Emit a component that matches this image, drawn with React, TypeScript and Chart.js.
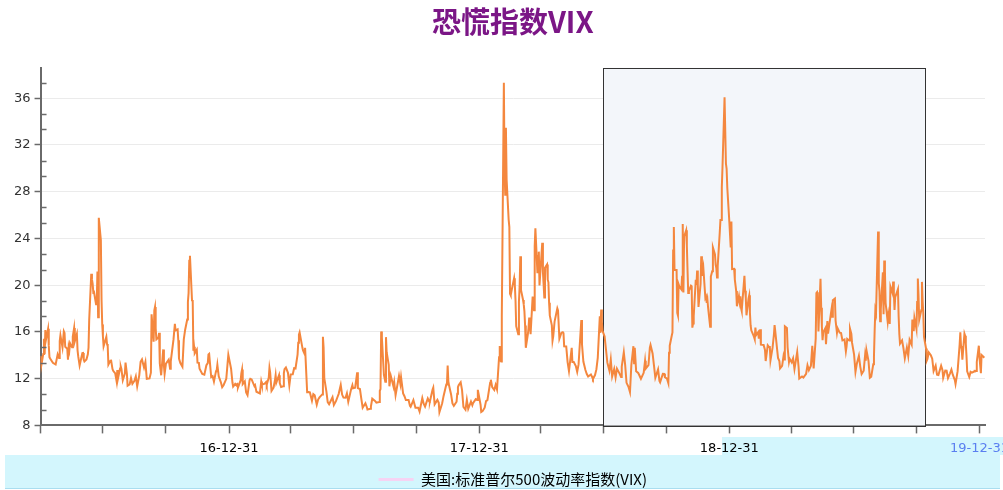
import React, { useEffect, useRef } from "react";
import { Chart, registerables } from "chart.js";

Chart.register(...registerables);

const titleText = "恐慌指数VIX";
const seriesName = "美国:标准普尔500波动率指数(VIX)";
const yTicks = [8, 12, 16, 20, 24, 28, 32, 36];
const yMin = 8;
const yMax = 38.6;
const xStart = "2016-03-31";
const xEnd = "2020-01-08";
const xTickDates = [
  "2016-03-31", "2016-06-30", "2016-09-30", "2016-12-31",
  "2017-03-31", "2017-06-30", "2017-09-30", "2017-12-31",
  "2018-03-31", "2018-06-30", "2018-09-30", "2018-12-31",
  "2019-03-31", "2019-06-30", "2019-09-30", "2019-12-31",
];
const highlightRange = ["2018-06-30", "2019-10-13"];

const vix2016: [string, number][] = [
  ["2016-03-31", 13.95], ["2016-04-01", 13.1], ["2016-04-04", 14.12], ["2016-04-05", 15.42], ["2016-04-06", 14.09],
  ["2016-04-07", 16.16], ["2016-04-08", 15.36], ["2016-04-11", 16.26], ["2016-04-12", 14.85], ["2016-04-13", 13.84],
  ["2016-04-14", 13.72], ["2016-04-18", 13.35], ["2016-04-20", 13.28], ["2016-04-22", 13.22], ["2016-04-25", 14.08],
  ["2016-04-27", 13.77], ["2016-04-28", 15.22], ["2016-04-29", 15.7], ["2016-05-02", 14.68], ["2016-05-04", 16.05],
  ["2016-05-05", 15.91], ["2016-05-06", 14.72], ["2016-05-09", 14.57], ["2016-05-10", 13.63], ["2016-05-11", 14.69],
  ["2016-05-12", 14.41], ["2016-05-13", 15.04], ["2016-05-16", 14.68], ["2016-05-17", 15.57], ["2016-05-18", 15.95],
  ["2016-05-19", 16.33], ["2016-05-20", 15.2], ["2016-05-23", 15.82], ["2016-05-24", 14.42], ["2016-05-25", 13.9],
  ["2016-05-27", 13.12], ["2016-05-31", 14.19], ["2016-06-01", 14.2], ["2016-06-02", 13.63], ["2016-06-03", 13.47],
  ["2016-06-06", 13.65], ["2016-06-08", 14.08], ["2016-06-09", 14.64], ["2016-06-10", 17.03], ["2016-06-13", 20.97],
  ["2016-06-14", 20.5], ["2016-06-15", 20.14], ["2016-06-16", 19.37], ["2016-06-17", 19.41], ["2016-06-20", 18.37],
  ["2016-06-21", 18.48], ["2016-06-22", 21.17], ["2016-06-23", 17.25], ["2016-06-24", 25.76], ["2016-06-27", 23.85],
  ["2016-06-28", 18.75], ["2016-06-29", 16.64], ["2016-06-30", 15.63], ["2016-07-01", 14.77], ["2016-07-05", 15.58],
  ["2016-07-06", 14.96], ["2016-07-07", 14.76], ["2016-07-08", 13.2], ["2016-07-11", 13.54], ["2016-07-12", 13.55],
  ["2016-07-14", 12.82], ["2016-07-15", 12.67], ["2016-07-18", 12.44], ["2016-07-20", 11.77], ["2016-07-21", 12.74],
  ["2016-07-22", 12.02], ["2016-07-25", 12.87], ["2016-07-26", 13.05], ["2016-07-27", 12.83], ["2016-07-29", 11.87],
  ["2016-08-01", 12.44], ["2016-08-02", 13.37], ["2016-08-04", 12.42], ["2016-08-05", 11.39], ["2016-08-08", 11.5],
  ["2016-08-10", 12.05], ["2016-08-12", 11.55], ["2016-08-15", 11.81], ["2016-08-17", 12.19], ["2016-08-19", 11.34],
  ["2016-08-22", 12.27], ["2016-08-24", 13.45], ["2016-08-26", 13.65], ["2016-08-29", 12.94], ["2016-08-31", 13.42],
  ["2016-09-02", 11.98], ["2016-09-06", 12.02], ["2016-09-08", 12.51], ["2016-09-09", 17.5], ["2016-09-12", 15.16],
  ["2016-09-13", 17.85], ["2016-09-14", 18.14], ["2016-09-15", 16.3], ["2016-09-16", 15.37], ["2016-09-19", 15.53],
  ["2016-09-20", 15.92], ["2016-09-21", 13.3], ["2016-09-23", 12.29], ["2016-09-26", 14.5], ["2016-09-27", 13.1],
  ["2016-09-28", 12.39], ["2016-09-30", 13.29], ["2016-10-04", 13.63], ["2016-10-06", 12.84], ["2016-10-07", 13.48],
  ["2016-10-11", 15.36], ["2016-10-13", 16.69], ["2016-10-14", 16.12], ["2016-10-17", 16.21], ["2016-10-18", 15.28],
  ["2016-10-19", 13.72], ["2016-10-21", 13.34], ["2016-10-24", 13.02], ["2016-10-26", 15.36], ["2016-10-28", 16.19],
  ["2016-10-31", 17.06], ["2016-11-01", 18.56], ["2016-11-02", 19.32], ["2016-11-03", 22.08], ["2016-11-04", 22.51],
  ["2016-11-07", 18.71], ["2016-11-08", 18.74], ["2016-11-09", 14.38], ["2016-11-10", 14.74], ["2016-11-11", 14.17],
  ["2016-11-14", 14.48], ["2016-11-15", 13.37], ["2016-11-17", 13.35], ["2016-11-18", 12.85], ["2016-11-22", 12.41],
  ["2016-11-25", 12.34], ["2016-11-28", 13.15], ["2016-11-30", 13.33], ["2016-12-01", 14.07], ["2016-12-02", 14.12],
  ["2016-12-05", 12.14], ["2016-12-07", 12.22], ["2016-12-09", 11.75], ["2016-12-12", 12.64], ["2016-12-13", 12.72],
  ["2016-12-14", 13.19], ["2016-12-16", 12.2], ["2016-12-19", 11.71], ["2016-12-21", 11.27], ["2016-12-23", 11.44],
  ["2016-12-27", 11.99], ["2016-12-29", 13.37], ["2016-12-30", 14.04],
];

const vix2017: [string, number][] = [
  ["2017-01-03", 12.85], ["2017-01-05", 11.67], ["2017-01-06", 11.32], ["2017-01-09", 11.56], ["2017-01-10", 11.49],
  ["2017-01-12", 11.54], ["2017-01-13", 11.23], ["2017-01-17", 11.87], ["2017-01-18", 12.48], ["2017-01-19", 12.78],
  ["2017-01-20", 11.54], ["2017-01-23", 11.77], ["2017-01-25", 10.81], ["2017-01-27", 10.58], ["2017-01-30", 11.88],
  ["2017-01-31", 11.99], ["2017-02-02", 11.93], ["2017-02-06", 11.37], ["2017-02-07", 11.45], ["2017-02-09", 10.88],
  ["2017-02-14", 10.74], ["2017-02-16", 11.76], ["2017-02-17", 11.49], ["2017-02-21", 11.57], ["2017-02-23", 11.71],
  ["2017-02-24", 11.47], ["2017-02-27", 12.09], ["2017-02-28", 12.92], ["2017-03-01", 12.54], ["2017-03-03", 10.96],
  ["2017-03-06", 11.24], ["2017-03-08", 11.86], ["2017-03-09", 12.3], ["2017-03-10", 11.66], ["2017-03-14", 12.3],
  ["2017-03-15", 11.63], ["2017-03-17", 11.28], ["2017-03-20", 11.34], ["2017-03-21", 12.47], ["2017-03-22", 12.81],
  ["2017-03-24", 12.96], ["2017-03-27", 12.5], ["2017-03-29", 11.42], ["2017-03-31", 12.37], ["2017-04-03", 12.38],
  ["2017-04-05", 12.89], ["2017-04-07", 12.87], ["2017-04-10", 14.05], ["2017-04-11", 15.07], ["2017-04-12", 15.77],
  ["2017-04-13", 15.96], ["2017-04-17", 14.66], ["2017-04-18", 14.42], ["2017-04-20", 14.15], ["2017-04-21", 14.63],
  ["2017-04-24", 10.84], ["2017-04-26", 10.85], ["2017-04-28", 10.82], ["2017-05-01", 10.11], ["2017-05-03", 10.68],
  ["2017-05-05", 10.57], ["2017-05-08", 9.77], ["2017-05-10", 10.21], ["2017-05-12", 10.4], ["2017-05-16", 10.65],
  ["2017-05-17", 15.59], ["2017-05-18", 14.66], ["2017-05-19", 12.04], ["2017-05-22", 10.93], ["2017-05-24", 9.99],
  ["2017-05-26", 9.81], ["2017-05-31", 10.41], ["2017-06-02", 9.75], ["2017-06-05", 10.07], ["2017-06-07", 10.39],
  ["2017-06-09", 10.7], ["2017-06-12", 11.46], ["2017-06-14", 10.64], ["2017-06-16", 10.38], ["2017-06-19", 10.37],
  ["2017-06-21", 10.75], ["2017-06-23", 10.02], ["2017-06-27", 11.06], ["2017-06-29", 11.44], ["2017-06-30", 11.18],
  ["2017-07-03", 11.22], ["2017-07-06", 12.54], ["2017-07-07", 11.19], ["2017-07-10", 11.11], ["2017-07-12", 10.3],
  ["2017-07-14", 9.51], ["2017-07-18", 9.89], ["2017-07-20", 9.58], ["2017-07-21", 9.36], ["2017-07-25", 9.43],
  ["2017-07-26", 9.6], ["2017-07-28", 10.29], ["2017-08-01", 10.09], ["2017-08-03", 9.95], ["2017-08-07", 10.0],
  ["2017-08-08", 10.96], ["2017-08-09", 11.11], ["2017-08-10", 16.04], ["2017-08-11", 15.51], ["2017-08-14", 12.33],
  ["2017-08-15", 12.04], ["2017-08-16", 11.74], ["2017-08-17", 15.55], ["2017-08-18", 14.26], ["2017-08-21", 13.19],
  ["2017-08-22", 11.35], ["2017-08-24", 12.25], ["2017-08-28", 11.32], ["2017-08-29", 11.7], ["2017-08-31", 10.59],
  ["2017-09-05", 12.23], ["2017-09-07", 11.55], ["2017-09-08", 12.12], ["2017-09-11", 10.73], ["2017-09-13", 10.5],
  ["2017-09-15", 10.17], ["2017-09-19", 10.18], ["2017-09-21", 9.67], ["2017-09-22", 9.59], ["2017-09-26", 10.17],
  ["2017-09-29", 9.51], ["2017-10-03", 9.51], ["2017-10-05", 9.19], ["2017-10-09", 10.33], ["2017-10-11", 9.85],
  ["2017-10-13", 9.61], ["2017-10-17", 10.31], ["2017-10-19", 10.05], ["2017-10-20", 10.03], ["2017-10-24", 11.07],
  ["2017-10-25", 11.23], ["2017-10-27", 9.8], ["2017-10-31", 10.18], ["2017-11-02", 9.93], ["2017-11-03", 9.14],
  ["2017-11-07", 9.89], ["2017-11-09", 10.5], ["2017-11-13", 11.5], ["2017-11-14", 11.59], ["2017-11-15", 13.13],
  ["2017-11-16", 11.76], ["2017-11-17", 11.43], ["2017-11-20", 10.65], ["2017-11-22", 9.88], ["2017-11-24", 9.67],
  ["2017-11-28", 10.03], ["2017-11-29", 10.7], ["2017-11-30", 11.28], ["2017-12-01", 11.43], ["2017-12-04", 11.68],
  ["2017-12-06", 11.02], ["2017-12-08", 9.58], ["2017-12-11", 9.34], ["2017-12-13", 10.18], ["2017-12-15", 9.42],
  ["2017-12-19", 10.03], ["2017-12-21", 9.72], ["2017-12-22", 9.9], ["2017-12-26", 10.25], ["2017-12-28", 10.18],
  ["2017-12-29", 11.04],
];

const vix2018: [string, number][] = [
  ["2018-01-02", 9.77], ["2018-01-03", 9.15], ["2018-01-05", 9.22], ["2018-01-08", 9.52], ["2018-01-10", 10.08],
  ["2018-01-12", 10.16], ["2018-01-16", 11.66], ["2018-01-17", 11.91], ["2018-01-19", 11.27], ["2018-01-22", 11.03],
  ["2018-01-24", 11.47], ["2018-01-26", 11.08], ["2018-01-29", 13.84], ["2018-01-30", 14.79], ["2018-01-31", 13.54],
  ["2018-02-01", 13.47], ["2018-02-02", 17.31], ["2018-02-05", 37.32], ["2018-02-06", 29.98], ["2018-02-07", 27.73],
  ["2018-02-08", 33.46], ["2018-02-09", 29.06], ["2018-02-12", 25.61], ["2018-02-13", 24.97], ["2018-02-14", 19.26],
  ["2018-02-15", 19.13], ["2018-02-16", 19.46], ["2018-02-20", 20.6], ["2018-02-21", 20.02], ["2018-02-22", 18.72],
  ["2018-02-23", 16.49], ["2018-02-26", 15.8], ["2018-02-27", 18.59], ["2018-02-28", 19.85], ["2018-03-01", 22.47],
  ["2018-03-02", 19.59], ["2018-03-05", 18.73], ["2018-03-06", 18.36], ["2018-03-07", 17.76], ["2018-03-08", 16.54],
  ["2018-03-09", 14.64], ["2018-03-12", 15.78], ["2018-03-13", 16.35], ["2018-03-14", 17.23], ["2018-03-15", 16.59],
  ["2018-03-16", 15.8], ["2018-03-19", 19.02], ["2018-03-20", 18.2], ["2018-03-21", 17.86], ["2018-03-22", 23.34],
  ["2018-03-23", 24.87], ["2018-03-26", 21.03], ["2018-03-27", 22.5], ["2018-03-28", 22.87], ["2018-03-29", 19.97],
  ["2018-04-02", 23.62], ["2018-04-03", 21.1], ["2018-04-04", 20.06], ["2018-04-05", 18.94], ["2018-04-06", 21.49],
  ["2018-04-09", 21.77], ["2018-04-10", 20.47], ["2018-04-11", 20.24], ["2018-04-12", 18.49], ["2018-04-13", 17.41],
  ["2018-04-16", 16.56], ["2018-04-17", 15.25], ["2018-04-18", 15.6], ["2018-04-20", 16.88], ["2018-04-24", 18.02],
  ["2018-04-25", 17.84], ["2018-04-27", 15.41], ["2018-04-30", 15.93], ["2018-05-02", 15.97], ["2018-05-03", 15.9],
  ["2018-05-04", 14.77], ["2018-05-07", 14.75], ["2018-05-09", 13.42], ["2018-05-11", 12.65], ["2018-05-15", 14.63],
  ["2018-05-16", 13.42], ["2018-05-18", 13.42], ["2018-05-21", 13.08], ["2018-05-23", 12.58], ["2018-05-25", 13.22],
  ["2018-05-29", 17.02], ["2018-05-30", 14.94], ["2018-06-01", 13.46], ["2018-06-04", 12.74], ["2018-06-06", 12.4],
  ["2018-06-08", 12.18], ["2018-06-12", 12.35], ["2018-06-14", 12.12], ["2018-06-15", 11.98], ["2018-06-18", 12.31],
  ["2018-06-20", 12.79], ["2018-06-22", 13.77], ["2018-06-25", 17.33], ["2018-06-26", 15.92], ["2018-06-27", 17.91],
  ["2018-06-28", 16.85], ["2018-06-29", 16.09], ["2018-07-02", 15.6], ["2018-07-05", 13.94], ["2018-07-06", 13.37],
  ["2018-07-09", 12.69], ["2018-07-11", 13.63], ["2018-07-13", 12.18], ["2018-07-16", 12.83], ["2018-07-18", 12.1],
  ["2018-07-20", 12.86], ["2018-07-24", 12.41], ["2018-07-26", 12.14], ["2018-07-27", 13.03], ["2018-07-30", 14.26],
  ["2018-08-01", 13.15], ["2018-08-03", 11.64], ["2018-08-06", 11.27], ["2018-08-08", 10.85], ["2018-08-10", 13.16],
  ["2018-08-13", 14.78], ["2018-08-14", 13.31], ["2018-08-15", 14.64], ["2018-08-17", 12.64], ["2018-08-20", 12.49],
  ["2018-08-22", 12.25], ["2018-08-24", 11.99], ["2018-08-28", 12.5], ["2018-08-30", 13.53], ["2018-08-31", 12.86],
  ["2018-09-04", 13.16], ["2018-09-06", 14.65], ["2018-09-07", 14.88], ["2018-09-10", 14.16], ["2018-09-12", 13.14],
  ["2018-09-14", 12.07], ["2018-09-18", 12.79], ["2018-09-20", 11.8], ["2018-09-21", 11.68], ["2018-09-25", 12.42],
  ["2018-09-27", 12.41], ["2018-09-28", 12.12], ["2018-10-01", 12.0], ["2018-10-03", 11.61], ["2018-10-04", 14.22],
  ["2018-10-05", 14.82], ["2018-10-08", 15.69], ["2018-10-09", 15.95], ["2018-10-10", 22.96], ["2018-10-11", 24.98],
  ["2018-10-12", 21.31], ["2018-10-15", 21.3], ["2018-10-16", 17.62], ["2018-10-17", 17.4], ["2018-10-18", 20.06],
  ["2018-10-19", 19.89], ["2018-10-22", 19.64], ["2018-10-23", 20.71], ["2018-10-24", 25.23], ["2018-10-25", 19.37],
  ["2018-10-26", 24.16], ["2018-10-29", 24.7], ["2018-10-30", 23.35], ["2018-10-31", 21.23], ["2018-11-01", 19.34],
  ["2018-11-02", 19.51], ["2018-11-05", 19.96], ["2018-11-06", 19.91], ["2018-11-07", 16.36], ["2018-11-08", 16.72],
  ["2018-11-09", 17.36], ["2018-11-12", 20.45], ["2018-11-13", 20.02], ["2018-11-14", 21.25], ["2018-11-15", 19.98],
  ["2018-11-16", 18.14], ["2018-11-19", 20.1], ["2018-11-20", 22.48], ["2018-11-21", 20.8], ["2018-11-23", 21.52],
  ["2018-11-26", 18.9], ["2018-11-27", 19.02], ["2018-11-28", 18.49], ["2018-11-29", 18.79], ["2018-11-30", 18.07],
  ["2018-12-03", 16.44], ["2018-12-04", 20.74], ["2018-12-06", 21.19], ["2018-12-07", 23.23], ["2018-12-10", 22.64],
  ["2018-12-11", 21.76], ["2018-12-12", 21.46], ["2018-12-13", 20.65], ["2018-12-14", 21.63], ["2018-12-17", 24.52],
  ["2018-12-18", 25.58], ["2018-12-19", 25.58], ["2018-12-20", 28.38], ["2018-12-21", 30.11], ["2018-12-24", 36.07],
  ["2018-12-26", 30.41], ["2018-12-27", 29.96], ["2018-12-28", 28.34], ["2018-12-31", 25.42],
];

const vix2019: [string, number][] = [
  ["2019-01-02", 23.22], ["2019-01-03", 25.45], ["2019-01-04", 21.38], ["2019-01-07", 21.4], ["2019-01-08", 20.47],
  ["2019-01-09", 19.98], ["2019-01-10", 19.5], ["2019-01-11", 18.19], ["2019-01-14", 19.07], ["2019-01-15", 18.6],
  ["2019-01-16", 19.04], ["2019-01-17", 18.06], ["2019-01-18", 17.8], ["2019-01-22", 20.8], ["2019-01-23", 19.52],
  ["2019-01-24", 18.89], ["2019-01-25", 17.42], ["2019-01-28", 18.87], ["2019-01-29", 19.13], ["2019-01-30", 17.66],
  ["2019-01-31", 16.57], ["2019-02-01", 16.14], ["2019-02-04", 15.73], ["2019-02-05", 15.57], ["2019-02-06", 15.38],
  ["2019-02-07", 16.37], ["2019-02-08", 15.72], ["2019-02-11", 15.97], ["2019-02-12", 15.43], ["2019-02-14", 16.22],
  ["2019-02-15", 14.91], ["2019-02-19", 14.88], ["2019-02-21", 14.46], ["2019-02-22", 13.51], ["2019-02-25", 14.85],
  ["2019-02-27", 14.7], ["2019-02-28", 14.78], ["2019-03-01", 13.57], ["2019-03-04", 14.63], ["2019-03-06", 15.74],
  ["2019-03-07", 16.59], ["2019-03-08", 16.05], ["2019-03-11", 14.33], ["2019-03-12", 13.77], ["2019-03-14", 13.5],
  ["2019-03-15", 12.88], ["2019-03-18", 13.1], ["2019-03-20", 13.91], ["2019-03-21", 13.63], ["2019-03-22", 16.48],
  ["2019-03-25", 16.33], ["2019-03-26", 14.68], ["2019-03-28", 13.43], ["2019-03-29", 13.71], ["2019-04-01", 13.4],
  ["2019-04-03", 13.74], ["2019-04-05", 12.82], ["2019-04-09", 14.28], ["2019-04-11", 13.02], ["2019-04-12", 12.01],
  ["2019-04-16", 12.18], ["2019-04-18", 12.09], ["2019-04-22", 12.42], ["2019-04-24", 13.14], ["2019-04-26", 12.73],
  ["2019-04-29", 13.11], ["2019-05-01", 14.8], ["2019-05-03", 12.87], ["2019-05-06", 15.44], ["2019-05-07", 19.32],
  ["2019-05-08", 19.4], ["2019-05-09", 19.1], ["2019-05-10", 16.04], ["2019-05-13", 20.55], ["2019-05-14", 18.06],
  ["2019-05-15", 16.44], ["2019-05-16", 15.29], ["2019-05-17", 15.96], ["2019-05-20", 16.31], ["2019-05-21", 14.95],
  ["2019-05-23", 16.92], ["2019-05-24", 15.85], ["2019-05-28", 17.5], ["2019-05-29", 17.9], ["2019-05-30", 17.3],
  ["2019-05-31", 18.71], ["2019-06-03", 18.86], ["2019-06-04", 16.97], ["2019-06-06", 15.93], ["2019-06-07", 16.3],
  ["2019-06-10", 15.94], ["2019-06-12", 15.91], ["2019-06-14", 15.28], ["2019-06-17", 15.35], ["2019-06-19", 14.33],
  ["2019-06-20", 14.75], ["2019-06-21", 15.4], ["2019-06-24", 15.26], ["2019-06-25", 16.28], ["2019-06-27", 15.82],
  ["2019-06-28", 15.08], ["2019-07-01", 14.06], ["2019-07-03", 12.57], ["2019-07-05", 13.28], ["2019-07-08", 13.96],
  ["2019-07-10", 13.03], ["2019-07-12", 12.39], ["2019-07-15", 12.68], ["2019-07-17", 13.97], ["2019-07-18", 13.53],
  ["2019-07-19", 14.45], ["2019-07-22", 13.53], ["2019-07-24", 12.07], ["2019-07-26", 12.16], ["2019-07-29", 13.24],
  ["2019-07-30", 13.94], ["2019-07-31", 16.12], ["2019-08-01", 17.87], ["2019-08-02", 17.61], ["2019-08-05", 24.59],
  ["2019-08-06", 20.17], ["2019-08-07", 19.49], ["2019-08-08", 16.91], ["2019-08-09", 17.97], ["2019-08-12", 21.09],
  ["2019-08-13", 17.52], ["2019-08-14", 22.1], ["2019-08-15", 21.18], ["2019-08-16", 18.47], ["2019-08-19", 16.88],
  ["2019-08-20", 17.5], ["2019-08-22", 16.68], ["2019-08-23", 19.87], ["2019-08-26", 19.32], ["2019-08-27", 20.31],
  ["2019-08-28", 19.35], ["2019-08-29", 17.88], ["2019-08-30", 18.98], ["2019-09-03", 19.66], ["2019-09-04", 17.33],
  ["2019-09-05", 15.82], ["2019-09-06", 15.0], ["2019-09-09", 15.27], ["2019-09-11", 14.61], ["2019-09-13", 13.74],
  ["2019-09-16", 14.67], ["2019-09-18", 13.95], ["2019-09-20", 15.32], ["2019-09-23", 14.91], ["2019-09-24", 17.05],
  ["2019-09-26", 16.07], ["2019-09-27", 17.22], ["2019-09-30", 16.24], ["2019-10-01", 18.56], ["2019-10-02", 20.56],
  ["2019-10-03", 19.12], ["2019-10-04", 17.04], ["2019-10-07", 17.86], ["2019-10-08", 20.28], ["2019-10-09", 18.64],
  ["2019-10-10", 17.57], ["2019-10-11", 15.58], ["2019-10-14", 14.57], ["2019-10-15", 13.54], ["2019-10-16", 13.68],
  ["2019-10-18", 14.25], ["2019-10-21", 14.0], ["2019-10-23", 13.71], ["2019-10-25", 12.65], ["2019-10-28", 13.11],
  ["2019-10-30", 12.33], ["2019-11-01", 12.3], ["2019-11-05", 13.1], ["2019-11-07", 12.73], ["2019-11-08", 12.07],
  ["2019-11-11", 12.69], ["2019-11-13", 12.68], ["2019-11-15", 12.05], ["2019-11-18", 12.46], ["2019-11-20", 12.78],
  ["2019-11-22", 12.34], ["2019-11-25", 11.87], ["2019-11-26", 11.54], ["2019-11-29", 12.62], ["2019-12-02", 14.91],
  ["2019-12-03", 15.96], ["2019-12-04", 14.8], ["2019-12-05", 14.52], ["2019-12-06", 13.62], ["2019-12-09", 15.86],
  ["2019-12-10", 15.68], ["2019-12-11", 14.99], ["2019-12-12", 13.94], ["2019-12-13", 12.63], ["2019-12-16", 12.14],
  ["2019-12-18", 12.58], ["2019-12-20", 12.51], ["2019-12-23", 12.61], ["2019-12-24", 12.67], ["2019-12-26", 12.65],
  ["2019-12-27", 13.43], ["2019-12-30", 14.82], ["2019-12-31", 13.78],
];

const vix2020: [string, number][] = [
  ["2020-01-02", 12.47], ["2020-01-03", 14.02], ["2020-01-06", 13.85], ["2020-01-07", 13.79],
];

const dayNum = (s: string) => {
  const [y, m, d] = s.split("-").map(Number);
  return Date.UTC(y, m - 1, d) / 86400000;
};

const FONT_UI = '"DejaVu Sans", "Liberation Sans", sans-serif';
const FONT_CJK = '"Noto Sans CJK SC", "Noto Sans", sans-serif';

export default function App() {
  const ref = useRef<HTMLCanvasElement | null>(null);

  useEffect(() => {
    if (!ref.current) return;
    const all = [...vix2016, ...vix2017, ...vix2018, ...vix2019, ...vix2020];
    const points = all.map(([d, v]) => ({ x: dayNum(d), y: v }));

    const decor = {
      id: "decor",
      beforeDraw(chart: any) {
        const { ctx } = chart;
        ctx.save();
        ctx.fillStyle = "#d3f6fd";
        ctx.fillRect(5, 455, 995, 33);
        ctx.fillRect(722, 437, 290, 18);
        ctx.fillStyle = "#a9def0";
        ctx.fillRect(5, 488, 995, 1);
        ctx.restore();
      },
      beforeDatasetsDraw(chart: any) {
        const { ctx, chartArea, scales } = chart;
        const x0 = scales.x.getPixelForValue(dayNum(highlightRange[0]));
        const x1 = scales.x.getPixelForValue(dayNum(highlightRange[1]));
        ctx.save();
        ctx.fillStyle = "#f3f6fa";
        ctx.fillRect(x0, chartArea.top, x1 - x0, chartArea.bottom - chartArea.top);
        ctx.strokeStyle = "#333333";
        ctx.lineWidth = 1;
        ctx.strokeRect(Math.round(x0) + 0.5, Math.round(chartArea.top) + 0.5, Math.round(x1 - x0), Math.round(chartArea.bottom - chartArea.top));
        ctx.restore();
      },
      afterDraw(chart: any) {
        const { ctx, chartArea, scales } = chart;
        ctx.save();
        ctx.strokeStyle = "#6a6a6a";
        ctx.lineWidth = 1.5;
        for (const t of yTicks) {
          for (let k = 1; k <= 2; k++) {
            const v = t + (k * 4) / 3;
            if (v > yMax) continue;
            const py = Math.round(scales.y.getPixelForValue(v)) + 0.5;
            ctx.beginPath();
            ctx.moveTo(chartArea.left, py);
            ctx.lineTo(chartArea.left + 6, py);
            ctx.stroke();
          }
        }
        ctx.restore();
      },
    };

    const chart = new Chart(ref.current, {
      type: "line",
      data: {
        datasets: [
          {
            label: seriesName,
            data: points,
            borderColor: "#f4873e",
            borderWidth: 2,
            pointRadius: 0,
            fill: false,
            tension: 0,
          },
        ],
      },
      options: {
        animation: false,
        responsive: false,
        events: [],
        layout: { padding: { left: 10, right: 45, top: 0, bottom: -7 } },
        scales: {
          x: {
            type: "linear",
            min: dayNum(xStart),
            max: dayNum(xEnd),
            afterBuildTicks: (scale: any) => {
              scale.ticks = xTickDates.map((d) => ({ value: dayNum(d) }));
            },
            grid: {
              drawOnChartArea: false,
              drawTicks: true,
              tickLength: 8,
              tickColor: "#6a6a6a",
              tickWidth: 1.5,
            },
            border: { color: "#6a6a6a", width: 2 },
            ticks: {
              autoSkip: false,
              maxRotation: 0,
              padding: 7,
              font: { size: 13, family: FONT_UI },
              color: (c: any) => (c.index === xTickDates.length - 1 ? "#5a7ff0" : "#000000"),
              callback: (_v: any, i: number) => {
                const d = xTickDates[i];
                return d && d.endsWith("12-31") ? d.slice(2) : "";
              },
            },
          },
          y: {
            type: "linear",
            min: yMin,
            max: yMax,
            afterBuildTicks: (scale: any) => {
              scale.ticks = yTicks.map((v) => ({ value: v }));
            },
            grid: {
              color: "#ebebeb",
              lineWidth: 1,
              drawTicks: true,
              tickLength: 6,
              tickColor: "#6a6a6a",
              tickWidth: 1.5,
            },
            border: { color: "#6a6a6a", width: 2 },
            ticks: {
              padding: 4,
              font: { size: 13, family: FONT_UI },
              color: "#333333",
              callback: (v: any) => String(v),
            },
          },
        },
        plugins: {
          tooltip: { enabled: false },
          title: {
            display: true,
            text: titleText,
            fullSize: false,
            color: "#7b1686",
            font: { size: 29, weight: "bold", family: FONT_CJK },
            padding: { top: 5, bottom: 28 },
          },
          legend: {
            display: true,
            position: "bottom",
            fullSize: false,
            labels: {
              boxWidth: 35,
              boxHeight: 3,
              padding: 9,
              color: "#5a7ff0",
              font: { size: 15, family: FONT_CJK },
              generateLabels: () => [
                {
                  text: seriesName,
                  fillStyle: "#f6d3f3",
                  strokeStyle: "#f6d3f3",
                  lineWidth: 0,
                  hidden: false,
                  datasetIndex: 0,
                },
              ],
            },
          },
        },
      },
      plugins: [decor],
    } as any);

    return () => chart.destroy();
  }, []);

  return (
    <div
      style={{
        position: "absolute",
        left: 0,
        top: 0,
        width: 1003,
        height: 490,
        overflow: "hidden",
        background: "#ffffff",
      }}
    >
      <canvas ref={ref} width={1030} height={490} style={{ display: "block", width: 1030, height: 490 }} />
    </div>
  );
}
